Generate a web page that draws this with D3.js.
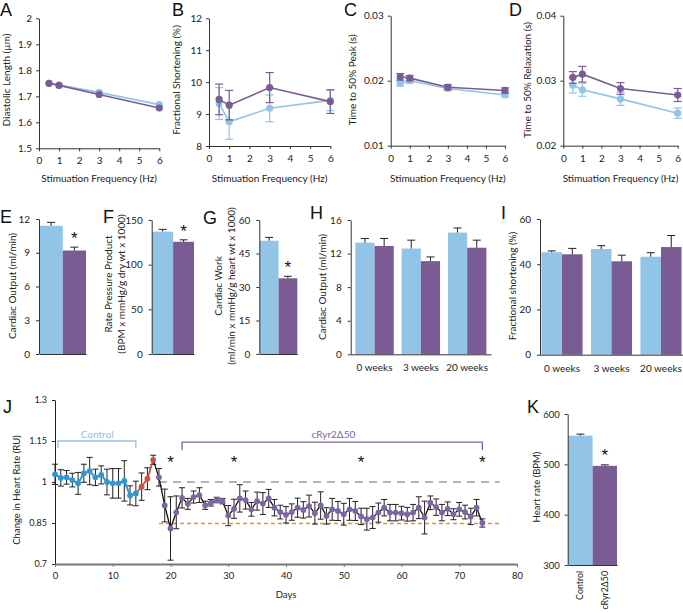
<!DOCTYPE html>
<html><head><meta charset="utf-8">
<script src="https://cdn.jsdelivr.net/npm/d3@7"></script>
<style>body{margin:0;background:#fff}svg{display:block}text{font-family:Lato,"Open Sans",sans-serif}</style>
</head><body>
<script>
// ---------- data ----------
const freqs = [0.5, 1, 3, 6];
const freqTicks = [0, 1, 2, 3, 4, 5, 6];
const diastolicCtrl = [1.750, 1.743, 1.715, 1.668];
const diastolicMut  = [1.750, 1.742, 1.707, 1.655];
const fsCtrl = [9.33, 8.76, 9.18, 9.43];
const fsCtrlErr = [0.50, 0.55, 0.42, 0.32];
const fsMut = [9.46, 9.28, 9.83, 9.39];
const fsMutErr = [0.48, 0.46, 0.47, 0.37];
const peakCtrl = [0.0196, 0.0200, 0.0188, 0.0178];
const peakCtrlErr = [0.0004, 0.0004, 0.0003, 0.0003];
const peakMut = [0.0206, 0.0204, 0.0190, 0.0185];
const peakMutErr = [0.0005, 0.0004, 0.0004, 0.0004];
const relaxCtrl = [0.0293, 0.0286, 0.0272, 0.0250];
const relaxCtrlErr = [0.0012, 0.0010, 0.0010, 0.0008];
const relaxMut = [0.0305, 0.0310, 0.0288, 0.0278];
const relaxMutErr = [0.0009, 0.0012, 0.0009, 0.0010];

const groups2 = ["Control", "cRyr2Δ50"];
const coValues = [11.4, 9.2], coErr = [0.3, 0.3];
const rppValues = [137, 125.6], rppErr = [2.5, 2.2];
const workValues = [50.7, 33.9], workErr = [1.5, 0.9];

const weeks = ["0 weeks", "3 weeks", "20 weeks"];
const hCtrl = [13.3, 12.6, 14.5], hCtrlErr = [0.5, 1.0, 0.55];
const hMut = [12.9, 11.1, 12.7], hMutErr = [0.9, 0.5, 0.9];
const iCtrl = [45.3, 46.7, 43.3], iCtrlErr = [0.6, 1.5, 1.8];
const iMut = [44.4, 41.3, 47.6], iMutErr = [2.6, 2.7, 5.1];

const jDays = [0,1,2,3,4,5,6,7,8,9,10,11,12,13,14,15,16,17,18,19,20,21,22,23,24,25,26,27,28,29,30,31,32,33,34,35,36,37,38,39,40,41,42,43,44,45,46,47,48,49,50,51,52,53,54,55,56,57,58,59,60,61,62,63,64,65,66,67,68,69,70,71,72,73,74];
const jValues = [1.028,1.015,1.017,1.007,0.995,1.032,1.040,1.017,1.026,1.000,0.995,0.995,1.004,0.951,0.958,
  0.983,1.012,1.081,
  1.017,0.914,0.830,0.889,0.942,0.920,0.945,0.952,0.915,0.924,0.934,0.930,0.877,0.902,0.940,0.934,0.900,0.930,0.921,0.940,0.906,0.890,
  0.880,0.890,0.906,0.898,0.912,0.886,0.914,0.876,0.900,0.894,0.882,0.900,0.894,0.874,0.864,0.870,0.888,0.906,0.888,0.888,
  0.886,0.882,0.888,0.906,0.870,0.924,0.908,0.888,0.902,0.882,0.900,0.890,0.874,0.906,0.850];
const jErr = [0.037,0.030,0.025,0.025,0.040,0.033,0.050,0.030,0.033,0.047,0.054,0.054,0.074,0.035,0.045,
  0.050,0.040,0.017,
  0.032,0.060,0.116,0.060,0.037,0.020,0.022,0.027,0.015,0.012,0.010,0.010,0.037,0.035,0.050,0.033,0.025,0.033,0.040,0.033,0.030,0.025,
  0.030,0.030,0.035,0.030,0.040,0.040,0.050,0.030,0.040,0.035,0.040,0.040,0.035,0.030,0.040,0.040,0.035,0.030,0.030,0.030,
  0.025,0.025,0.030,0.040,0.060,0.025,0.030,0.030,0.025,0.020,0.025,0.025,0.030,0.030,0.015];
const jControlEnd = 14, jTransitionEnd = 17;
const jBaseline = 1.0, jMutantMean = 0.848;
const jStarDays = [20, 31, 53, 74];
const jTicksX = [0, 10, 20, 30, 40, 50, 60, 70, 80];
const jTicksY = [0.7, 0.85, 1, 1.15, 1.3];

const kValues = [557, 497], kErr = [3, 2];

// ---------- style ----------
const BLUE = "#92c4e8", PURPLE = "#7a5c94";
const JBLUE = "#3097d2", JRED = "#c8514a", JPURP = "#7e66a3";
const AX = "#333";

const svg = d3.select("body").append("svg").attr("width", 683).attr("height", 613);

function styleAxis(g, color) {
  g.selectAll("path,line").attr("stroke", color || AX).attr("stroke-width", 1);
  g.selectAll("text").attr("fill", "#222").style("font-size", "10px").style("font-family", "Lato, 'Open Sans', sans-serif");
}
function letter(t, x, y) {
  svg.append("text").attr("x", x).attr("y", y).text(t)
    .style("font-family", "'Liberation Sans', Arial, sans-serif").style("font-size", "18px").attr("fill", "#111");
}
function vlabel(lines, x, y, size) {
  const t = svg.append("text").attr("transform", `translate(${x},${y}) rotate(-90)`).attr("text-anchor", "middle")
    .style("font-size", (size || 10) + "px").attr("fill", "#222");
  lines.forEach((l, i) => t.append("tspan").attr("x", 0).attr("dy", i === 0 ? 0 : "1.32em").text(l));
}
function star(x, y) {
  svg.append("text").attr("x", x).attr("y", y).attr("text-anchor", "middle").text("*")
    .style("font-family", "'Liberation Sans', Arial, sans-serif").style("font-size", "17px").attr("fill", "#111");
}

// ---------- line panels A-D ----------
function linePanel(o) {
  const x = d3.scaleLinear().domain([0, 6]).range([o.x0, o.x1]);
  const y = d3.scaleLinear().domain(o.yDomain).range([o.yBot, o.yTop]);
  const gy = svg.append("g").attr("transform", `translate(${o.x0},0)`)
    .call(d3.axisLeft(y).tickValues(o.yTicks).tickFormat(o.fmt).tickSize(3).tickSizeOuter(0).tickPadding(4));
  styleAxis(gy);
  const gx = svg.append("g").attr("transform", `translate(0,${o.yBot})`)
    .call(d3.axisBottom(x).tickValues(freqTicks).tickFormat(d3.format("d")).tickSize(3).tickSizeOuter(0).tickPadding(4));
  styleAxis(gx);
  gx.selectAll("text").attr("dy", "0.9em");
  o.series.forEach(s => {
    const pts = freqs.map((f, i) => ({ f, v: s.values[i], e: s.err ? s.err[i] : 0 }));
    const g = svg.append("g");
    if (s.err) {
      pts.forEach(p => {
        g.append("line").attr("x1", x(p.f)).attr("x2", x(p.f)).attr("y1", y(p.v - p.e)).attr("y2", y(p.v + p.e)).attr("stroke", s.color).attr("stroke-width", 1.2);
        [p.v - p.e, p.v + p.e].forEach(v => g.append("line").attr("x1", x(p.f) - 4).attr("x2", x(p.f) + 4).attr("y1", y(v)).attr("y2", y(v)).attr("stroke", s.color).attr("stroke-width", 1.2));
      });
    }
    g.append("path").datum(pts).attr("fill", "none").attr("stroke", s.color).attr("stroke-width", 1.6)
      .attr("d", d3.line().x(p => x(p.f)).y(p => y(p.v)));
    g.selectAll("circle").data(pts).join("circle").attr("cx", p => x(p.f)).attr("cy", p => y(p.v)).attr("r", 3.6).attr("fill", s.color);
  });
  svg.append("text").attr("x", (o.x0 + o.x1) / 2).attr("y", 182).attr("text-anchor", "middle").style("font-size", "10px").attr("fill", "#222").text("Stimuation Frequency (Hz)");
  vlabel([o.ylabel], o.ylx, 80);
}

linePanel({ x0: 39, x1: 159.3, yTop: 18.3, yBot: 148.3, yDomain: [1.5, 2], yTicks: [1.5,1.6,1.7,1.8,1.9,2],
  fmt: d => d === 2 ? "2" : d3.format(".1f")(d), ylabel: "Diastolic Length (µm)", ylx: 10,
  series: [{ values: diastolicCtrl, color: BLUE }, { values: diastolicMut, color: PURPLE }] });
linePanel({ x0: 209, x1: 330.3, yTop: 18.3, yBot: 146, yDomain: [8, 12], yTicks: [8,9,10,11,12],
  fmt: d3.format("d"), ylabel: "Fractional Shortening (%)", ylx: 180,
  series: [{ values: fsCtrl, err: fsCtrlErr, color: BLUE }, { values: fsMut, err: fsMutErr, color: PURPLE }] });
linePanel({ x0: 390.7, x1: 505, yTop: 15.7, yBot: 145.7, yDomain: [0.01, 0.03], yTicks: [0.01,0.02,0.03],
  fmt: d3.format(".2f"), ylabel: "Time to 50% Peak (s)", ylx: 356,
  series: [{ values: peakCtrl, err: peakCtrlErr, color: BLUE }, { values: peakMut, err: peakMutErr, color: PURPLE }] });
linePanel({ x0: 563.3, x1: 677.7, yTop: 15.7, yBot: 145.7, yDomain: [0.02, 0.04], yTicks: [0.02,0.03,0.04],
  fmt: d3.format(".2f"), ylabel: "Time to 50% Relaxation (s)", ylx: 531,
  series: [{ values: relaxCtrl, err: relaxCtrlErr, color: BLUE }, { values: relaxMut, err: relaxMutErr, color: PURPLE }] });
letter("A", 0, 16); letter("B", 172, 16); letter("C", 344, 16); letter("D", 509, 16);

// ---------- bar panels E-G ----------
function barPair(o) {
  const x = d3.scaleBand().domain(groups2).range([o.x0 + 0.5, o.x1]).padding(0);
  const y = d3.scaleLinear().domain(o.yDomain).range([o.yBot, o.yTop]);
  const gy = svg.append("g").attr("transform", `translate(${o.x0},0)`)
    .call(d3.axisLeft(y).tickValues(o.yTicks).tickSize(3).tickSizeOuter(0).tickPadding(6));
  styleAxis(gy);
  const gx = svg.append("g").attr("transform", `translate(0,${o.yBot})`)
    .call(d3.axisBottom(x).tickSize(0).tickSizeOuter(0).tickFormat(""));
  styleAxis(gx);
  groups2.forEach((gname, i) => {
    const c = i === 0 ? BLUE : PURPLE;
    svg.append("rect").attr("x", x(gname)).attr("width", x.bandwidth()).attr("y", y(o.values[i])).attr("height", o.yBot - y(o.values[i])).attr("fill", c);
    const cx = x(gname) + x.bandwidth() / 2, top = y(o.values[i] + o.err[i]);
    svg.append("line").attr("x1", cx).attr("x2", cx).attr("y1", y(o.values[i])).attr("y2", top).attr("stroke", "#222");
    svg.append("line").attr("x1", cx - 4).attr("x2", cx + 4).attr("y1", top).attr("y2", top).attr("stroke", "#222");
  });
  gy.raise(); gx.raise();
  star(x(groups2[1]) + x.bandwidth() / 2, y(o.values[1] + o.err[1]) - 3);
}
barPair({ x0: 39, x1: 86, yTop: 219, yBot: 354, yDomain: [0, 12], yTicks: [0,3,6,9,12], values: coValues, err: coErr });
barPair({ x0: 151.7, x1: 194, yTop: 220, yBot: 354, yDomain: [0, 150], yTicks: [0,50,100,150], values: rppValues, err: rppErr });
barPair({ x0: 259.3, x1: 297.3, yTop: 220, yBot: 354, yDomain: [0, 60], yTicks: [0,15,30,45,60], values: workValues, err: workErr });
vlabel(["Cardiac Output (ml/min)"], 16, 286);
vlabel(["Rate Pressure Product", "(BPM x mmHg/g dry wt x 1000)"], 111.5, 284);
vlabel(["Cardiac Work", "(ml/min x mmHg/g heart wt x 1000)"], 221.5, 286);
letter("E", 0, 223); letter("F", 103, 223); letter("G", 203, 224);

// ---------- grouped panels H-I ----------
function grouped(o) {
  const x = d3.scaleBand().domain(weeks).range([o.x0, o.x1]).paddingInner(0.17).paddingOuter(o.po);
  const sub = d3.scaleBand().domain([0, 1]).range([0, x.bandwidth()]).padding(0);
  const y = d3.scaleLinear().domain(o.yDomain).range([o.yBot, o.yTop]);
  o.ctrl.forEach((v, i) => {
    [[v, o.ctrlErr[i], BLUE, 0], [o.mut[i], o.mutErr[i], PURPLE, 1]].forEach(([val, e, c, k]) => {
      const bx = x(weeks[i]) + sub(k);
      svg.append("rect").attr("x", bx).attr("width", sub.bandwidth()).attr("y", y(val)).attr("height", o.yBot - y(val)).attr("fill", c);
      const cx = bx + sub.bandwidth() / 2, top = y(val + e);
      svg.append("line").attr("x1", cx).attr("x2", cx).attr("y1", y(val)).attr("y2", top).attr("stroke", "#222");
      svg.append("line").attr("x1", cx - 4).attr("x2", cx + 4).attr("y1", top).attr("y2", top).attr("stroke", "#222");
    });
  });
  const gy = svg.append("g").attr("transform", `translate(${o.x0},0)`)
    .call(d3.axisLeft(y).tickValues(o.yTicks).tickSize(3).tickSizeOuter(0).tickPadding(6));
  styleAxis(gy);
  const gx = svg.append("g").attr("transform", `translate(0,${o.yBot})`)
    .call(d3.axisBottom(x).tickSize(0).tickSizeOuter(0).tickPadding(10));
  styleAxis(gx);
}
grouped({ x0: 350.7, x1: 491, po: 0.1, yTop: 220, yBot: 354.3, yDomain: [0, 16], yTicks: [0,4,8,12,16],
  ctrl: hCtrl, ctrlErr: hCtrlErr, mut: hMut, mutErr: hMutErr });
grouped({ x0: 540, x1: 683, po: 0.03, yTop: 219, yBot: 354.7, yDomain: [0, 60], yTicks: [0,20,40,60],
  ctrl: iCtrl, ctrlErr: iCtrlErr, mut: iMut, mutErr: iMutErr });
vlabel(["Cardiac Output (ml/min)"], 326, 287);
vlabel(["Fractional shortening (%)"], 516, 286);
letter("H", 310, 219); letter("I", 501, 219);

// ---------- panel J ----------
(function () {
  const x = d3.scaleLinear().domain([0, 80]).range([55, 517]);
  const y = d3.scaleLinear().domain([0.7, 1.3]).range([564, 400]);
  const gy = svg.append("g").attr("transform", "translate(55,0)")
    .call(d3.axisLeft(y).tickValues(jTicksY).tickFormat(d => String(d)).tickSize(3).tickSizeOuter(0).tickPadding(5));
  styleAxis(gy, "#222");
  gy.selectAll("text").style("font-size", "9px");
  const gx = svg.append("g").attr("transform", "translate(0,564)")
    .call(d3.axisBottom(x).tickValues(jTicksX).tickFormat(d3.format("d")).tickSize(3).tickSizeOuter(0).tickPadding(5));
  styleAxis(gx, "#777");
  gx.select("path").attr("stroke-width", 2);
  gx.selectAll("text").style("font-size", "9.5px");
  svg.append("text").attr("x", 286).attr("y", 598).attr("text-anchor", "middle").style("font-size", "9.5px").attr("fill", "#222").text("Days");
  vlabel(["Change in Heart Rate (RU)"], 20, 490, 9.5);

  svg.append("line").attr("x1", x(18)).attr("x2", x(77)).attr("y1", y(jBaseline)).attr("y2", y(jBaseline))
    .attr("stroke", "#9a9a9a").attr("stroke-width", 1.3).attr("stroke-dasharray", "8,6");
  svg.append("line").attr("x1", x(18)).attr("x2", x(77)).attr("y1", y(jMutantMean)).attr("y2", y(jMutantMean))
    .attr("stroke", "#e8922a").attr("stroke-width", 1.5).attr("stroke-dasharray", "4,3");

  const pts = jDays.map((d, i) => ({ d, v: jValues[i], e: jErr[i] }));
  const eb = svg.append("g");
  pts.forEach(p => {
    eb.append("line").attr("x1", x(p.d)).attr("x2", x(p.d)).attr("y1", y(p.v - p.e)).attr("y2", y(p.v + p.e)).attr("stroke", "#222").attr("stroke-width", 1);
    [p.v - p.e, p.v + p.e].forEach(v => eb.append("line").attr("x1", x(p.d) - 3).attr("x2", x(p.d) + 3).attr("y1", y(v)).attr("y2", y(v)).attr("stroke", "#222").attr("stroke-width", 1));
  });
  const line = d3.line().x(p => x(p.d)).y(p => y(p.v));
  svg.append("path").datum(pts.filter(p => p.d >= jTransitionEnd)).attr("fill", "none").attr("stroke", "#111").attr("stroke-width", 1.3).attr("d", line);
  svg.append("path").datum(pts.filter(p => p.d >= jControlEnd && p.d <= jTransitionEnd)).attr("fill", "none").attr("stroke", JRED).attr("stroke-width", 1.8).attr("d", line);
  svg.append("path").datum(pts.filter(p => p.d <= jControlEnd)).attr("fill", "none").attr("stroke", JBLUE).attr("stroke-width", 2).attr("d", line);
  svg.append("g").selectAll("circle").data(pts).join("circle")
    .attr("cx", p => x(p.d)).attr("cy", p => y(p.v)).attr("r", 2.9)
    .attr("fill", p => p.d <= jControlEnd ? JBLUE : (p.d <= jTransitionEnd ? JRED : JPURP));

  // brackets
  const bC = y(1.15), bM = y(1.146);
  svg.append("path").attr("d", `M${x(0.5)},${bC + 7}V${bC}H${x(14)}V${bC + 7}`).attr("fill", "none").attr("stroke", BLUE).attr("stroke-width", 1.3);
  svg.append("text").attr("x", x(7.3)).attr("y", bC - 3).attr("text-anchor", "middle").style("font-size", "10px").attr("fill", "#8ebfe3").text("Control");
  svg.append("path").attr("d", `M${x(22)},${bM + 8}V${bM}H${x(74)}V${bM + 8}`).attr("fill", "none").attr("stroke", JPURP).attr("stroke-width", 1.3);
  svg.append("text").attr("x", x(48.2)).attr("y", bM - 4).attr("text-anchor", "middle").style("font-size", "10px").attr("fill", JPURP).text("cRyr2Δ50");
  jStarDays.forEach(d => star(x(d), 468));
  letter("J", 3, 413);
})();

// ---------- panel K ----------
(function () {
  const x = d3.scaleBand().domain(groups2).range([568.2, 617]).padding(0);
  const y = d3.scaleLinear().domain([300, 600]).range([565, 414]);
  groups2.forEach((gname, i) => {
    const c = i === 0 ? BLUE : PURPLE;
    svg.append("rect").attr("x", x(gname)).attr("width", x.bandwidth()).attr("y", y(kValues[i])).attr("height", 565 - y(kValues[i])).attr("fill", c);
    const cx = x(gname) + x.bandwidth() / 2, top = y(kValues[i] + kErr[i]);
    svg.append("line").attr("x1", cx).attr("x2", cx).attr("y1", y(kValues[i])).attr("y2", top).attr("stroke", "#222");
    svg.append("line").attr("x1", cx - 4).attr("x2", cx + 4).attr("y1", top).attr("y2", top).attr("stroke", "#222");
  });
  const gy = svg.append("g").attr("transform", "translate(567.7,0)")
    .call(d3.axisLeft(y).tickValues([300, 400, 500, 600]).tickSize(3).tickSizeOuter(0).tickPadding(5));
  styleAxis(gy);
  gy.selectAll("text").style("font-size", "9.5px");
  const gx = svg.append("g").attr("transform", "translate(0,565)")
    .call(d3.axisBottom(x).tickSize(0).tickSizeOuter(0).tickPadding(0));
  styleAxis(gx);
  gx.selectAll("text").attr("transform", "rotate(-90)").attr("text-anchor", "end").attr("x", -6).attr("y", 0).attr("dy", "0.35em").style("font-size", "8.8px");
  star(x(groups2[1]) + x.bandwidth() / 2, y(kValues[1] + kErr[1]) - 4);
  vlabel(["Heart rate (BPM)"], 540, 487, 9.5);
  letter("K", 527, 413);
})();
</script>
</body></html>
